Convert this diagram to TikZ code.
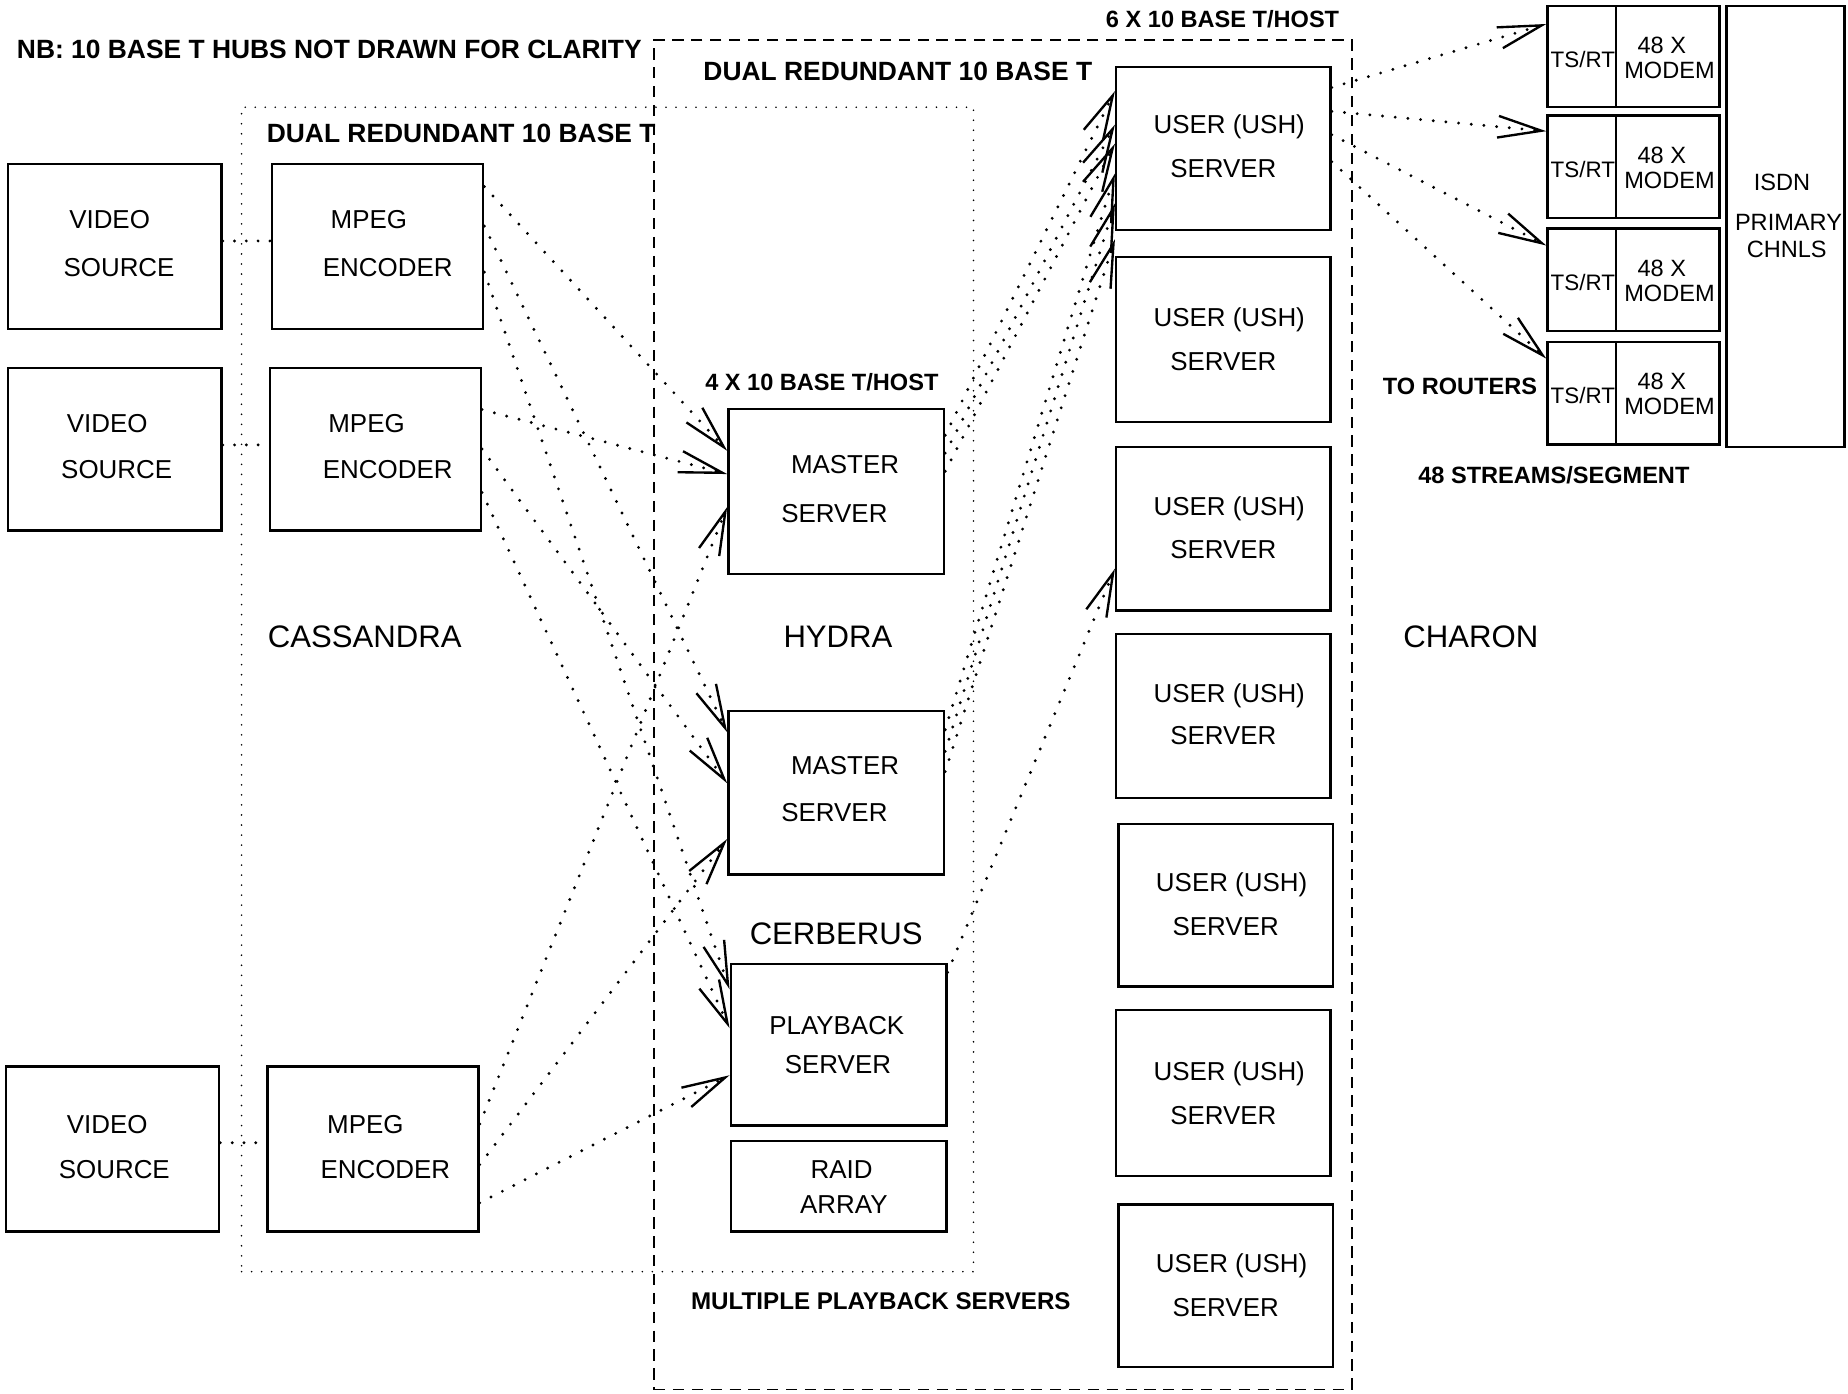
\documentclass[tikz,border=0pt]{standalone}
\usepackage{fontspec}
\setmainfont{Liberation Sans}
\usetikzlibrary{arrows.meta,fit,calc}
\newcommand{\rp}[2]{($(#1.north east)!#2!(#1.south east)$)}
\newcommand{\lp}[2]{($(#1.north west)!#2!(#1.south west)$)}
\begin{document}
\begin{tikzpicture}[x=0.5pt,y=-0.5pt,
  box/.style={draw,line width=1pt,inner sep=0pt},
  dotframe/.style={draw,line width=0.75pt,line cap=round,dash pattern=on 0pt off 4.25pt,inner sep=0pt},
  dashframe/.style={draw,line width=0.65pt,dash pattern=on 4.75pt off 3.25pt,inner sep=0pt},
  t/.style={font=\fontsize{11}{13}\selectfont,anchor=base,inner sep=0pt},
  tl/.style={font=\fontsize{13.2}{15}\selectfont,anchor=base,inner sep=0pt},
  tm/.style={font=\fontsize{10}{12}\selectfont,anchor=base,inner sep=0pt},
  tsr/.style={font=\fontsize{9.5}{11}\selectfont,anchor=base,inner sep=0pt},
  tb/.style={font=\bfseries\fontsize{11.2}{13}\selectfont,anchor=base west,inner sep=0pt},
  tbs/.style={font=\bfseries\fontsize{10}{12}\selectfont,anchor=base west,inner sep=0pt},
  conn/.style={line width=1.35pt,line cap=round,dash pattern=on 0pt off 5.4pt,
    -{Straight Barb[length=18.5pt,width=9.2pt,line width=1pt]}},
  link/.style={line width=1.35pt,line cap=round,dash pattern=on 0pt off 5pt}]
\useasboundingbox (0,0) rectangle (1568,1182);

% network frames
\node[dotframe,fit={(205,91) (826,1079)}] (cassnet) {};
\node[dashframe,fit={(555,34) (1147,1179)}] (hydranet) {};

% boxes
\node[box,fit={(7,139) (188,279)}] (vs1) {};
\node[box,fit={(7,312) (188,450)}] (vs2) {};
\node[box,fit={(5,905) (186,1045)}] (vs3) {};
\node[box,fit={(231,139) (410,279)}] (enc1) {};
\node[box,fit={(229,312) (408,450)}] (enc2) {};
\node[box,fit={(227,905) (406,1045)}] (enc3) {};
\node[box,fit={(618,347) (801,487)}] (ms1) {};
\node[box,fit={(618,603) (801,742)}] (ms2) {};
\node[box,fit={(620,818) (803,955)}] (pb) {};
\node[box,fit={(620,968) (803,1045)}] (raid) {};
\node[box,fit={(947,57) (1129,195)}] (ush1) {};
\node[box,fit={(947,218) (1129,358)}] (ush2) {};
\node[box,fit={(947,379) (1129,518)}] (ush3) {};
\node[box,fit={(947,538) (1129,677)}] (ush4) {};
\node[box,fit={(949,699) (1131,837)}] (ush5) {};
\node[box,fit={(947,857) (1129,998)}] (ush6) {};
\node[box,fit={(949,1022) (1131,1160)}] (ush7) {};
\node[box,fit={(1313,5) (1371,91)}] (ts1) {};
\node[box,fit={(1371,5) (1459,91)}] (md1) {};
\node[box,fit={(1313,98) (1371,185)}] (ts2) {};
\node[box,fit={(1371,98) (1459,185)}] (md2) {};
\node[box,fit={(1313,194) (1371,281)}] (ts3) {};
\node[box,fit={(1371,194) (1459,281)}] (md3) {};
\node[box,fit={(1313,290) (1371,377)}] (ts4) {};
\node[box,fit={(1371,290) (1459,377)}] (md4) {};
\node[box,fit={(1465,5) (1565,379)}] (isdn) {};

% box texts
\node[t] (vs1a) at (93,194) {VIDEO};
\node[t] (vs1b) at (101,235) {SOURCE};
\node[t] (vs2a) at (91,367) {VIDEO};
\node[t] (vs2b) at (99,406) {SOURCE};
\node[t] (vs3a) at (91,962) {VIDEO};
\node[t] (vs3b) at (97,1000) {SOURCE};
\node[t] (enc1a) at (313,194) {MPEG};
\node[t] (enc1b) at (329,235) {ENCODER};
\node[t] (enc2a) at (311,367) {MPEG};
\node[t] (enc2b) at (329,406) {ENCODER};
\node[t] (enc3a) at (310,962) {MPEG};
\node[t] (enc3b) at (327,1000) {ENCODER};
\node[t] (ms1a) at (717,402) {MASTER};
\node[t] (ms1b) at (708,443) {SERVER};
\node[t] (ms2a) at (717,657) {MASTER};
\node[t] (ms2b) at (708,697) {SERVER};
\node[t] (pba) at (710,878) {PLAYBACK};
\node[t] (pbb) at (711,911) {SERVER};
\node[t] (raida) at (714,1000) {RAID};
\node[t] (raidb) at (716,1030) {ARRAY};
\node[t] (ush1a) at (1043,113) {USER (USH)};
\node[t] (ush1b) at (1038,151) {SERVER};
\node[t] (ush2a) at (1043,277) {USER (USH)};
\node[t] (ush2b) at (1038,314) {SERVER};
\node[t] (ush3a) at (1043,437) {USER (USH)};
\node[t] (ush3b) at (1038,474) {SERVER};
\node[t] (ush4a) at (1043,596) {USER (USH)};
\node[t] (ush4b) at (1038,632) {SERVER};
\node[t] (ush5a) at (1045,756) {USER (USH)};
\node[t] (ush5b) at (1040,794) {SERVER};
\node[t] (ush6a) at (1043,917) {USER (USH)};
\node[t] (ush6b) at (1038,954) {SERVER};
\node[t] (ush7a) at (1045,1080) {USER (USH)};
\node[t] (ush7b) at (1040,1117) {SERVER};
\foreach \r/\top in {1/5,2/98,3/194,4/290}{
  \node[tsr] (ts\r t) at (1343,\top+52.2) {TS/RT};
  \node[tm] (md\r a) at (1410,\top+40.7) {48 X};
  \node[tm] (md\r b) at (1416.5,\top+61.9) {MODEM};
}
\node[tm] (isdna) at (1512,161.5) {ISDN};
\node[tm] (isdnb) at (1517.5,195.2) {PRIMARY};
\node[tm] (isdnc) at (1516,218.7) {CHNLS};

% labels
\node[tb] (nb) at (14,49.3) {NB: 10 BASE T HUBS NOT DRAWN FOR CLARITY};
\node[tb] (dual1) at (596.5,68.6) {DUAL REDUNDANT 10 BASE T};
\node[tb] (dual2) at (226,121) {DUAL REDUNDANT 10 BASE T};
\node[tbs] (six) at (938,23.1) {6 X 10 BASE T/HOST};
\node[tbs] (four) at (598,331.7) {4 X 10 BASE T/HOST};
\node[tbs] (torout) at (1173,334.8) {TO ROUTERS};
\node[tbs] (streams) at (1203,410.6) {48 STREAMS/SEGMENT};
\node[tbs,font=\bfseries\fontsize{10.25}{12}\selectfont] (multi) at (586,1111) {MULTIPLE PLAYBACK SERVERS};
\node[tl] (cass) at (309.5,549) {CASSANDRA};
\node[tl] (hydra) at (711,549) {HYDRA};
\node[tl] (charon) at (1248,549) {CHARON};
\node[tl] (cerb) at (709.5,801) {CERBERUS};

% source to encoder links
\draw[link] \rp{vs1}{0.468} -- \lp{enc1}{0.468};
\draw[link] \rp{vs2}{0.475} -- \lp{enc2}{0.475};
\draw[link] \rp{vs3}{0.462} -- \lp{enc3}{0.462};

% encoders to servers
\draw[conn] \rp{enc1}{0.143} -- \lp{ms1}{0.257};
\draw[conn] \rp{enc1}{0.379} -- \lp{ms2}{0.137};
\draw[conn] \rp{enc1}{0.654} -- \lp{pb}{0.161};
\draw[conn] \rp{enc2}{0.261} -- \lp{ms1}{0.396};
\draw[conn] \rp{enc2}{0.5} -- \lp{ms2}{0.444};
\draw[conn] \rp{enc2}{0.764} -- \lp{pb}{0.398};
\draw[conn] \rp{enc3}{0.35} -- \lp{ms1}{0.593};
\draw[conn] \rp{enc3}{0.593} -- \lp{ms2}{0.779};
\draw[conn] \rp{enc3}{0.821} -- \lp{pb}{0.686};

% servers to user servers
\draw[conn] \rp{ms1}{0.164} -- \lp{ush1}{0.152};
\draw[conn] \rp{ms1}{0.271} -- \lp{ush1}{0.355};
\draw[conn] \rp{ms1}{0.379} -- \lp{ush1}{0.471};
\draw[conn] \rp{ms2}{0.122} -- \lp{ush1}{0.652};
\draw[conn] \rp{ms2}{0.252} -- \lp{ush1}{0.833};
\draw[conn] \rp{ms2}{0.374} -- \lp{ush1}{1.05};
\draw[conn] \rp{pb}{0.058} -- \lp{ush3}{0.741};

% user server to modems
\draw[conn] \rp{ush1}{0.13} -- \lp{ts1}{0.186};
\draw[conn] \rp{ush1}{0.275} -- \lp{ts2}{0.161};
\draw[conn] \rp{ush1}{0.417} -- \lp{ts3}{0.172};
\draw[conn] \rp{ush1}{0.58} -- \lp{ts4}{0.172};
\end{tikzpicture}
\end{document}
